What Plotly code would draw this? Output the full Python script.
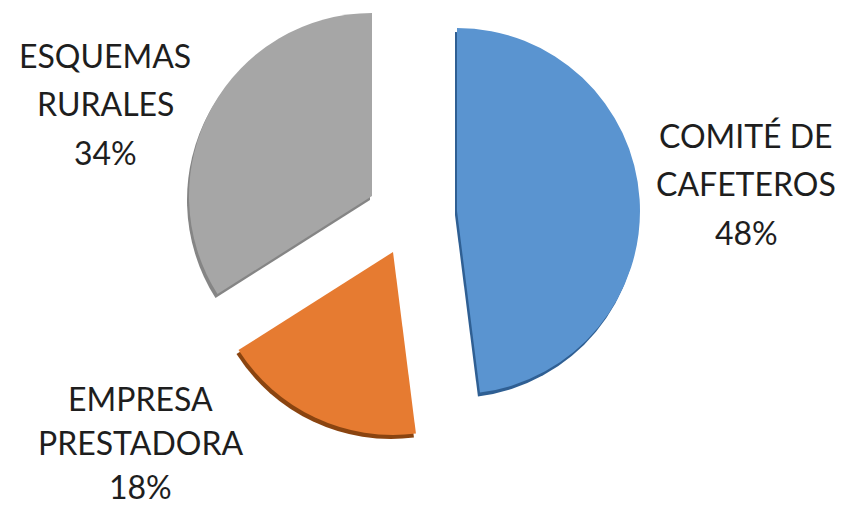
import plotly.graph_objects as go

# ---- data ----
labels = ["COMITÉ DE CAFETEROS", "EMPRESA PRESTADORA", "ESQUEMAS RURALES"]
label_lines = [["COMITÉ DE", "CAFETEROS"], ["EMPRESA", "PRESTADORA"], ["ESQUEMAS", "RURALES"]]
values = [48, 18, 34]
pct_text = ["48%", "18%", "34%"]

# ---- styles ----
colors = ["#5a94d0", "#e67b31", "#a6a6a6"]
rim_colors = ["#2f5f93", "#8a4410", "#858585"]
OX, OY = 8, 8            # page offset of the figure in the browser window
W, H = 843 - OX, 509 - OY
R = 183
# window-pixel centres of each exploded slice (layout only)
centres = [(457, 211), (393, 252), (372, 196)]
rim_offset = (-2, 4)
# label anchor positions (window pixel x, first-line y) and line spacing
label_pos = [(746, 136), (140, 398), (105, 56)]
line_gap = [48, 44, 48]
FONT = "Lato"
FONT_SIZE = 32

fig = go.Figure()


def dom(cx, cy):
    cx, cy = cx - OX, cy - OY
    return dict(x=[max(0, (cx - R) / W), min(1, (cx + R) / W)],
                y=[max(0, 1 - (cy + R) / H), min(1, 1 - (cy - R) / H)])


for pass_ in ("rim", "face"):
    for i in range(len(values)):
        cx, cy = centres[i]
        if pass_ == "rim":
            cx, cy = cx + rim_offset[0], cy + rim_offset[1]
            col = rim_colors[i]
        else:
            col = colors[i]
        mc = ["rgba(0,0,0,0)"] * len(values)
        mc[i] = col
        fig.add_trace(go.Pie(
            labels=labels, values=values, sort=False, direction="clockwise",
            rotation=0, textinfo="none", hoverinfo="label+percent",
            marker=dict(colors=mc, line=dict(width=0)),
            domain=dom(cx, cy), showlegend=False,
        ))

for i in range(len(values)):
    x, y = label_pos[i]
    lines = label_lines[i] + [pct_text[i]]
    for k, t in enumerate(lines):
        fig.add_annotation(
            x=(x - OX) / W, y=1 - (y - OY + k * line_gap[i]) / H,
            xref="paper", yref="paper",
            text=t, showarrow=False, xanchor="center", yanchor="middle",
            borderpad=0,
            font=dict(family=FONT, size=FONT_SIZE, color="#1e1e1e"),
        )

fig.update_layout(
    width=W, height=H, margin=dict(l=0, r=0, t=0, b=0),
    paper_bgcolor="white", plot_bgcolor="white", showlegend=False,
)

fig.write_html("out.html")
